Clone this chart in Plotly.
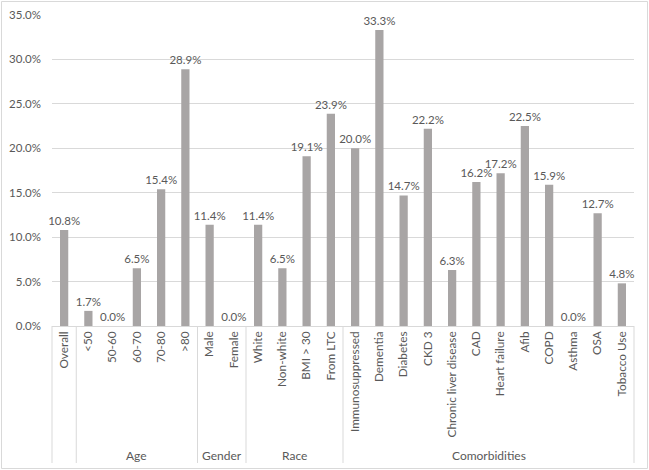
import plotly.graph_objects as go

categories = ["Overall", "<50", "50-60", "60-70", "70-80", ">80", "Male", "Female",
              "White", "Non-white", "BMI > 30", "From LTC", "Immunosuppressed", "Dementia",
              "Diabetes", "CKD 3", "Chronic liver disease", "CAD", "Heart failure", "Afib",
              "COPD", "Asthma", "OSA", "Tobacco Use"]
values = [0.108, 0.017, 0.0, 0.065, 0.154, 0.289, 0.114, 0.0,
          0.114, 0.065, 0.191, 0.239, 0.200, 0.333,
          0.147, 0.222, 0.063, 0.162, 0.172, 0.225,
          0.159, 0.0, 0.127, 0.048]
group_names = ["", "Age", "Gender", "Race", "Comorbidities"]
group_sizes = [1, 5, 2, 4, 12]
y_ticks = [0, 0.05, 0.10, 0.15, 0.20, 0.25, 0.30, 0.35]

FONT = "Lato"
TXT = "#595959"
GRID = "#d9d9d9"
W, H = 649, 470
ML, MR, MT, MB = 52, 15, 15, 144
pw, ph = W - ML - MR, H - MT - MB

fig = go.Figure(go.Bar(
    x=categories, y=values,
    marker=dict(color="#a8a5a5", line=dict(width=0)),
    text=[f"{v*100:.1f}%" for v in values],
    textposition="outside", cliponaxis=False, constraintext="none",
    textfont=dict(family=FONT, size=11.5, color=TXT),
    width=0.34,
))

n = len(categories)
shapes = []
annotations = []
bottom = -(463 - (H - MB)) / ph
bounds = [0]
for s in group_sizes:
    bounds.append(bounds[-1] + s)
for b in bounds:
    shapes.append(dict(type="line", xref="x domain", yref="paper",
                       x0=b / n, x1=b / n, y0=0, y1=bottom,
                       line=dict(color=GRID, width=1), layer="above"))
for name, a, b in zip(group_names, bounds[:-1], bounds[1:]):
    if name:
        annotations.append(dict(text=name, xref="x domain", yref="paper",
                                x=(a + b) / 2 / n, y=-(455 - (H - MB)) / ph,
                                showarrow=False, xanchor="center", yanchor="middle",
                                font=dict(family=FONT, size=12, color=TXT)))
shapes.append(dict(type="rect", xref="paper", yref="paper",
                   x0=-(ML - 1.5) / pw, x1=1 + (MR - 1.5) / pw,
                   y0=-(MB - 1.5) / ph, y1=1 + (MT - 1.5) / ph,
                   line=dict(color=GRID, width=1)))

fig.update_layout(
    width=W, height=H,
    margin=dict(l=ML, r=MR, t=MT, b=MB, pad=0),
    paper_bgcolor="white", plot_bgcolor="white",
    showlegend=False,
    font=dict(family=FONT, color=TXT),
    shapes=shapes, annotations=annotations,
    xaxis=dict(type="category", tickangle=-90, showgrid=False, ticks="",
               tickfont=dict(family=FONT, size=11.8, color=TXT), automargin=False,
               ticklabelstandoff=2,
               showline=False, zeroline=False, range=[-0.5, n - 0.5]),
    yaxis=dict(range=[0, 0.35], tickvals=y_ticks, tickformat=".1%", automargin=False,
               showgrid=True, gridcolor=GRID, gridwidth=1,
               zeroline=True, zerolinecolor=GRID, zerolinewidth=1,
               showline=False, ticks="", ticklabelstandoff=10,
               tickfont=dict(family=FONT, size=11.5, color=TXT)),
)

fig.write_html("out.html", config={"displayModeBar": False},
               post_script="document.body.style.margin='0';")
